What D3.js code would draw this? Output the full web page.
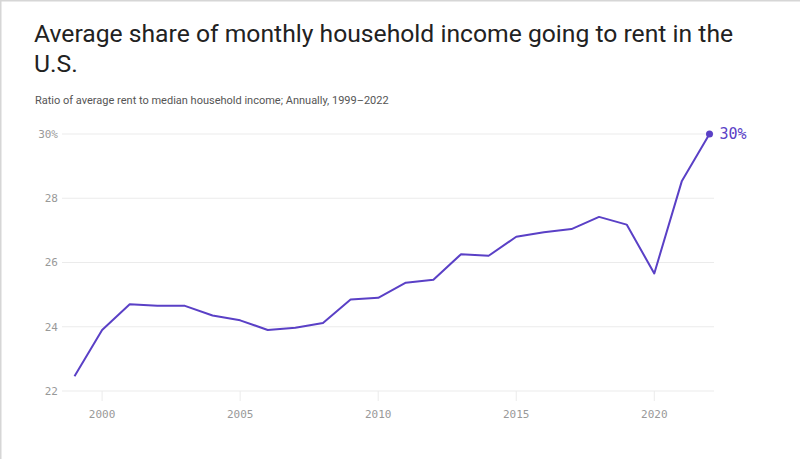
<!DOCTYPE html>
<html><head><meta charset="utf-8">
<script src="https://cdn.jsdelivr.net/npm/d3@7"></script>
<style>
html,body{margin:0;padding:0;background:#fff;}
</style></head>
<body>
<svg id="chart" width="800" height="459"></svg>
<script>
const years = [1999,2000,2001,2002,2003,2004,2005,2006,2007,2008,2009,2010,2011,2012,2013,2014,2015,2016,2017,2018,2019,2020,2021,2022];
const shares = [22.46,23.9,24.7,24.65,24.65,24.35,24.2,23.9,23.97,24.12,24.85,24.9,25.37,25.46,26.26,26.21,26.8,26.94,27.04,27.42,27.18,25.66,28.54,30.0];
const yTicks = [22,24,26,28,30];
const xTicks = [2000,2005,2010,2015,2020];
const titleText = "Average share of monthly household income going to rent in the";
const titleText2 = "U.S.";
const subtitleText = "Ratio of average rent to median household income; Annually, 1999–2022";

const svg = d3.select("#chart");
const lineColor = "#5a40c6";
const mono = "'DejaVu Sans Mono', monospace";

// frame
svg.append("line").attr("x1",0.5).attr("x2",0.5).attr("y1",0).attr("y2",459).attr("stroke","#d6d6d6").attr("stroke-width",2);
svg.append("line").attr("x1",0).attr("x2",800).attr("y1",0.5).attr("y2",0.5).attr("stroke","#d6d6d6").attr("stroke-width",2);

svg.append("text").attr("x",34).attr("y",42).text(titleText)
  .attr("font-family","Roboto, sans-serif").attr("font-size",24.7).attr("fill","#222");
svg.append("text").attr("x",34).attr("y",72).text(titleText2)
  .attr("font-family","Roboto, sans-serif").attr("font-size",24.7).attr("fill","#222");
svg.append("text").attr("x",35).attr("y",104).text(subtitleText)
  .attr("font-family","Roboto, sans-serif").attr("font-size",11).attr("fill","#555");

const x = d3.scaleLinear().domain([1999,2022]).range([74.5,709.5]);
const y = d3.scaleLinear().domain([22,30]).range([391,134]);
const gridL = 62, gridR = 714;

// y grid
const gy = svg.append("g");
yTicks.forEach(t=>{
  gy.append("line").attr("x1",gridL).attr("x2",gridR).attr("y1",y(t)).attr("y2",y(t))
    .attr("stroke","#ebebeb").attr("stroke-width",1);
  gy.append("text").attr("x",58).attr("y",y(t)).attr("dy","0.35em").attr("text-anchor","end")
    .attr("font-family",mono).attr("font-size",11).attr("fill","#999")
    .text(t===30 ? t+"%" : t);
});
// x ticks
const gx = svg.append("g");
xTicks.forEach(t=>{
  gx.append("line").attr("x1",x(t)).attr("x2",x(t)).attr("y1",391).attr("y2",401)
    .attr("stroke","#ebebeb").attr("stroke-width",1);
  gx.append("text").attr("x",x(t)).attr("y",418).attr("text-anchor","middle")
    .attr("font-family",mono).attr("font-size",11).attr("fill","#999").text(t);
});

const line = d3.line().x((d,i)=>x(years[i])).y(d=>y(d));
svg.append("path").datum(shares).attr("d",line).attr("fill","none")
  .attr("stroke",lineColor).attr("stroke-width",2).attr("stroke-linejoin","round");

const li = shares.length-1;
svg.append("circle").attr("cx",x(years[li])).attr("cy",y(shares[li])).attr("r",3.5).attr("fill",lineColor);
svg.append("text").attr("x",x(years[li])+10).attr("y",y(shares[li])).attr("dy","0.35em")
  .attr("font-family",mono).attr("font-size",15).attr("fill",lineColor)
  .text(Math.round(shares[li])+"%");
</script>
</body></html>
